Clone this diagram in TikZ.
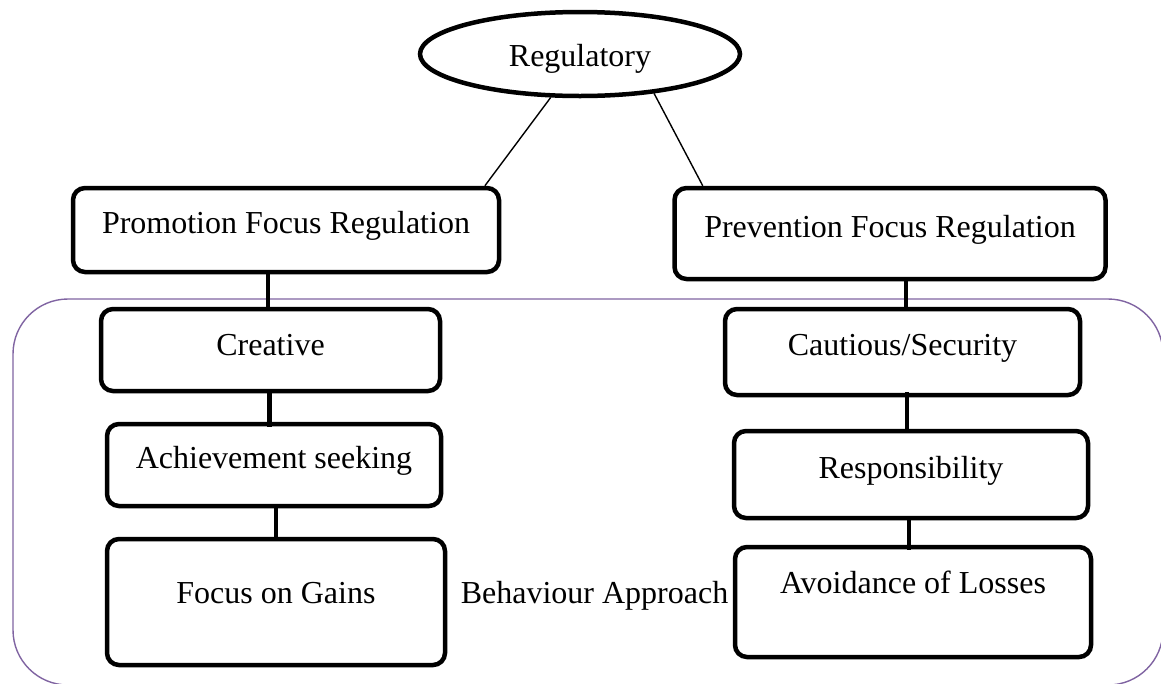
\documentclass[tikz,border=0pt]{standalone}
\usepackage{fontspec}
\setmainfont{Liberation Serif}
\usetikzlibrary{shapes.geometric,calc}
\definecolor{grpcol}{HTML}{8064A2}
\tikzset{
  box/.style={draw=black, line width=4.5pt, rounded corners=12pt, fill=white,
    inner sep=0pt, anchor=base, align=center},
  conn/.style={draw=black, line width=4.5pt},
  thin/.style={draw=black, line width=1.4pt},
  grp/.style={draw=grpcol, line width=1.4pt, rounded corners=55pt},
  plain/.style={inner sep=0pt, anchor=base}
}
\begin{document}
\begin{tikzpicture}[x=1pt,y=-1pt]
\fontsize{32}{38}\selectfont
\useasboundingbox (0,0) rectangle (1161,683);
\fill[white] (0,0) rectangle (1161,683);
% group outline
\draw[grp] (13,299) rectangle (1163,685);
% top ellipse
\node[ellipse, draw=black, line width=4.5pt, fill=white, minimum width=320pt,
  minimum height=84pt, inner sep=0pt, text height=30pt, text depth=6pt] (reg) at (580,54) {Regulatory};
% left column
\node[box, minimum width=426pt, text height=45pt, text depth=39pt] (promo) at (286,233) {Promotion Focus Regulation};
\node[box, minimum width=339pt, text height=46pt, text depth=36pt] (creative) at (270.5,355) {Creative};
\node[box, minimum width=334pt, text height=44pt, text depth=38pt] (achv) at (274,468) {Achievement seeking};
\node[box, minimum width=338pt, text height=64pt, text depth=62pt] (gains) at (276,603) {Focus on Gains};
% right column
\node[box, minimum width=431pt, text height=49pt, text depth=42pt] (prev) at (890,237) {Prevention Focus Regulation};
\node[box, minimum width=355pt, text height=46pt, text depth=40pt] (caut) at (902.5,355) {Cautious/Security};
\node[box, minimum width=354pt, text height=47pt, text depth=40pt] (resp) at (911,478) {Responsibility};
\node[box, minimum width=356pt, text height=46pt, text depth=64pt] (avoid) at (913,593) {Avoidance of Losses};
% middle label
\node[plain] (beh) at (594.5,603) {Behaviour Approach};
% thin connectors from ellipse
\draw[thin] (reg.236) -- ($(promo.north west)!0.962!(promo.north east)$);
\draw[thin] (reg.-28) -- ($(prev.north west)!0.07!(prev.north east)$);
% connector anchor points
\coordinate (c1) at ($(creative.north)+(-2.5,0)$);
\coordinate (c2) at ($(creative.south)+(-1,0)$);
\coordinate (c3) at ($(gains.north)+(0,0)$);
\coordinate (c4) at ($(caut.north)+(3.5,0)$);
\coordinate (c5) at ($(caut.south)+(4.5,-5)$);
\coordinate (c6) at ($(resp.south)+(-2,-3)$);
\coordinate (d1) at (c1 |- promo.south);
\coordinate (d2) at (c2 |- achv.north);
\coordinate (d3) at (c3 |- achv.south);
\coordinate (d4) at (c4 |- prev.south);
\coordinate (d5) at (c5 |- resp.north);
\coordinate (d6) at (c6 |- avoid.north);
% thick connectors
\draw[conn] (c1) -- ($(d1)+(0,-2)$);
\draw[conn] (c2) -- ($(d2)+(0,5)$);
\draw[conn] (c3) -- (d3);
\draw[conn] (c4) -- ($(d4)+(0,-2)$);
\draw[conn] (c5) -- ($(d5)+(0,2)$);
\draw[conn] (c6) -- ($(d6)+(0,5)$);
\end{tikzpicture}
\end{document}
